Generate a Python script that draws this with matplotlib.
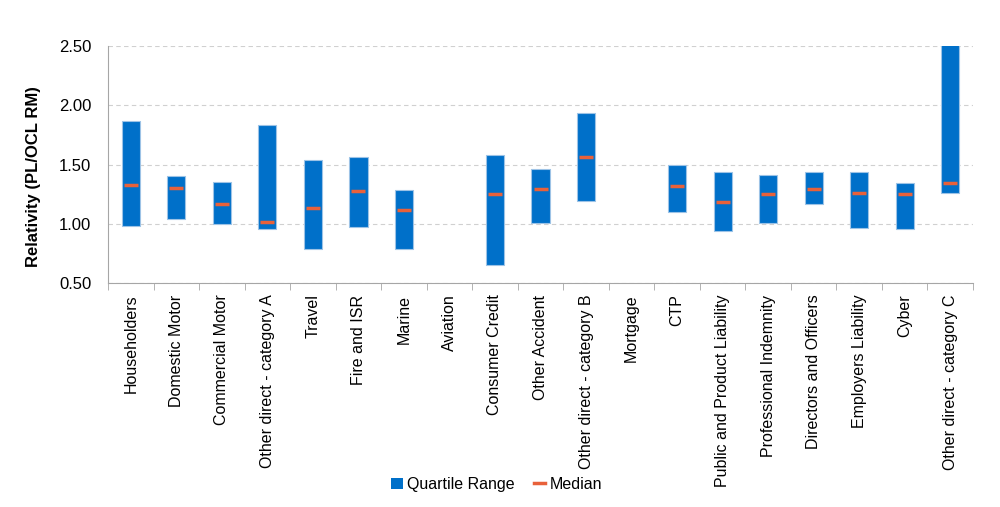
import numpy as np
import matplotlib
matplotlib.use('Agg')
import matplotlib.pyplot as plt
from matplotlib.lines import Line2D
from matplotlib.patches import Patch

plt.rcParams['font.family'] = ['Liberation Sans', 'DejaVu Sans']

# Data (NaN = no data for that class)
categories = ['Householders', 'Domestic Motor', 'Commercial Motor', 'Other direct - category A',
              'Travel', 'Fire and ISR', 'Marine', 'Aviation', 'Consumer Credit', 'Other Accident',
              'Other direct - category B', 'Mortgage', 'CTP', 'Public and Product Liability',
              'Professional Indemnity', 'Directors and Officers', 'Employers Liability', 'Cyber',
              'Other direct - category C']
q1 = [0.983, 1.039, 0.999, 0.955, 0.789, 0.971, 0.792, np.nan, 0.657, 1.005,
      1.196, np.nan, 1.100, 0.940, 1.008, 1.171, 0.963, 0.955, 1.258]
q3 = [1.866, 1.403, 1.356, 1.833, 1.535, 1.566, 1.283, np.nan, 1.583, 1.462,
      1.931, np.nan, 1.496, 1.440, 1.415, 1.437, 1.434, 1.342, 2.60]
median = [1.331, 1.302, 1.171, 1.013, 1.131, 1.274, 1.117, np.nan, 1.249, 1.291,
          1.566, np.nan, 1.316, 1.187, 1.249, 1.297, 1.263, 1.249, 1.345]

bar_col = '#0070C9'
med_col = '#E8613A'

fig = plt.figure(figsize=(10, 5.07), dpi=100)
ax = fig.add_axes([0.108, 0.441, 0.865, 0.469])

x = np.arange(len(categories))
q1 = np.array(q1)
q3 = np.array(q3)
ax.bar(x, q3 - q1, bottom=q1, width=0.4, color=bar_col, edgecolor='#9DC3E6',
       linewidth=0.8, zorder=3)
ax.scatter(x, median, marker='_', s=110, color=med_col, linewidths=2.5, zorder=4)

ax.set_ylim(0.5, 2.5)
ax.set_xlim(-0.5, len(categories) - 0.5)
ax.set_yticks([0.5, 1.0, 1.5, 2.0, 2.5])
ax.set_yticklabels(['%.2f' % v for v in [0.5, 1.0, 1.5, 2.0, 2.5]], fontsize=12)
ax.tick_params(axis='y', length=0, pad=12)
ax.yaxis.grid(True, linestyle=(0, (4, 3)), color='#D0D0D0', linewidth=0.8, zorder=0)

ax.set_xticks(x)
ax.set_xticklabels(categories, rotation=90, fontsize=11.5, va='top')
ax.tick_params(axis='x', length=0, pad=8)
ax.set_xticks(np.arange(-0.5, len(categories)), minor=True)
ax.tick_params(axis='x', which='minor', length=5, color='#A6A6A6')

for s in ['top', 'right']:
    ax.spines[s].set_visible(False)
for s in ['left', 'bottom']:
    ax.spines[s].set_color('#A6A6A6')

ax.set_ylabel('Relativity (PL/OCL RM)', fontsize=12, fontweight='bold')
ax.yaxis.set_label_coords(-0.078, 0.45)

handles = [Patch(facecolor=bar_col, edgecolor='none', label='Quartile Range'),
           Line2D([], [], color=med_col, linewidth=2.5, label='Median')]
fig.legend(handles=handles, loc='center', bbox_to_anchor=(0.497, 0.045), ncol=2,
           frameon=False, fontsize=11.5, handlelength=0.7, handleheight=0.7,
           columnspacing=1.2, handletextpad=0.3)

fig.savefig('out.png', dpi=100)
